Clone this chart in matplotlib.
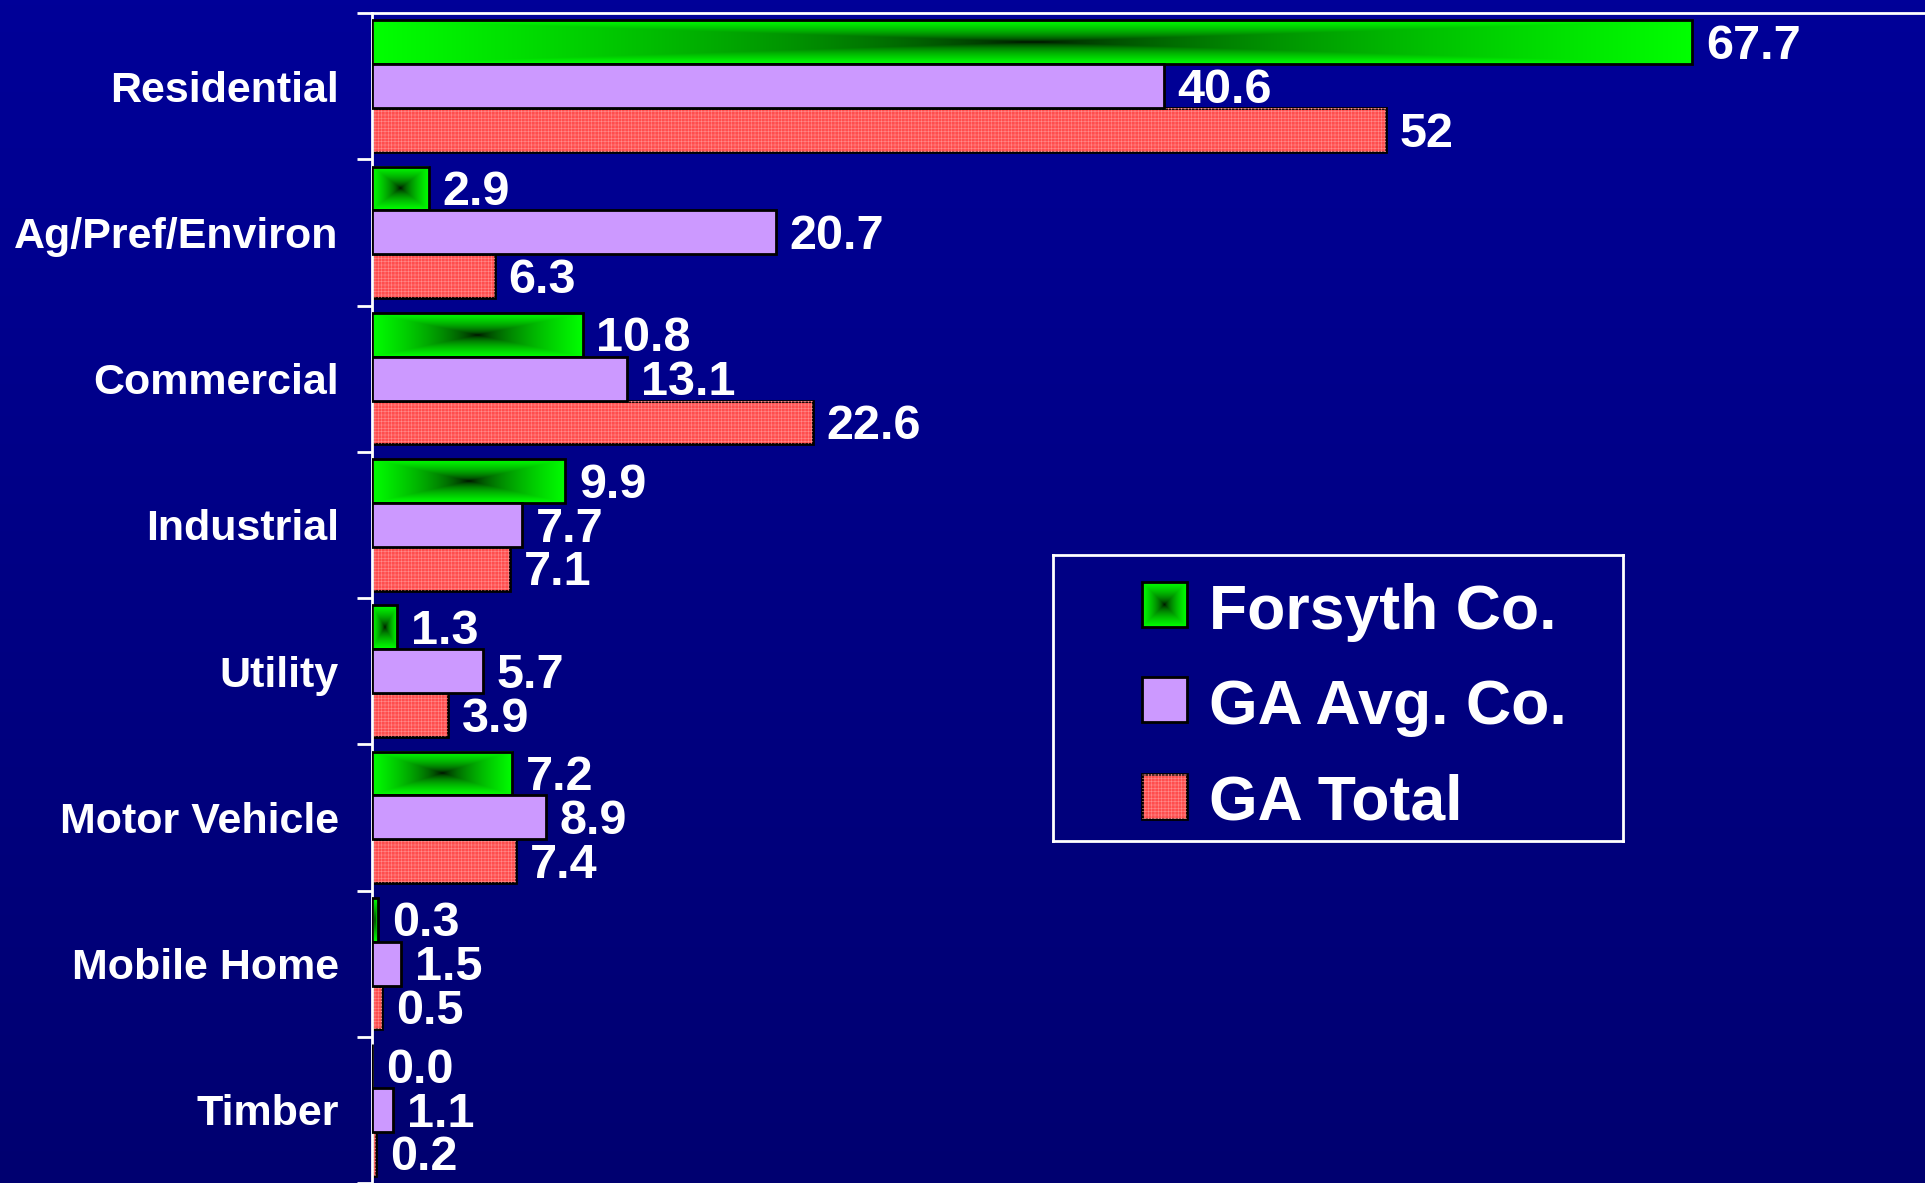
import numpy as np
import matplotlib
matplotlib.use('Agg')
import matplotlib.pyplot as plt
from matplotlib.patches import Rectangle


# Data:

categories = [ 'Residential', 'Ag/Pref/Environ', 'Commercial', 'Industrial',
               'Utility', 'Motor Vehicle', 'Mobile Home', 'Timber' ]
forsyth = [ 67.7, 2.9, 10.8, 9.9, 1.3, 7.2, 0.3, 0.0 ]
ga_avg = [ 40.6, 20.7, 13.1, 7.7, 5.7, 8.9, 1.5, 1.1 ]
ga_total = [ 52, 6.3, 22.6, 7.1, 3.9, 7.4, 0.5, 0.2 ]
series_names = [ 'Forsyth Co.', 'GA Avg. Co.', 'GA Total' ]


# Style:

plt.rcParams['font.family'] = ['Liberation Sans', 'DejaVu Sans']
plt.rcParams['font.weight'] = 'bold'
plt.rcParams['hatch.linewidth'] = 0.4

W, H = 1925, 1183
fig = plt.figure(figsize=(W / 100, H / 100), dpi=100)

#### Background gradient (top to bottom):
bg = fig.add_axes([0, 0, 1, 1], zorder=-10)
g = np.linspace(0, 1, 256).reshape(-1, 1, 1)
top_c = np.array([0, 0, 152]) / 255
bot_c = np.array([0, 0, 112]) / 255
bg.imshow(top_c * (1 - g) + bot_c * g, aspect='auto', extent=[0, 1, 0, 1])
bg.axis('off')


def center_gradient(nx=300, ny=60):
    # dark in the middle, bright green toward the edges
    xs = np.linspace(-1, 1, nx)
    ys = np.linspace(-1, 1, ny)
    X, Y = np.meshgrid(xs, ys)
    t = np.maximum(np.abs(X), np.abs(Y))
    img = np.zeros((ny, nx, 3))
    img[..., 1] = np.clip(t, 0, 1) ** 0.55
    return img


# Main axes:

ax = fig.add_axes([372 / W, 0, 1 - 372 / W, 1 - 13 / H])
ax.set_facecolor('none')

n = len(categories)
y = np.arange(n)
h = 0.3
red = '#ff4d4d'

bars_g = ax.barh(y - h, forsyth, height=h, color='none',
                 edgecolor='black', linewidth=2, zorder=3)
bars_p = ax.barh(y, ga_avg, height=h, color='#cc99ff',
                 edgecolor='black', linewidth=2, zorder=3)
bars_r = ax.barh(y + h, ga_total, height=h, color=red,
                 edgecolor='black', linewidth=2, zorder=2)
# >>> fine dotted texture on the red bars
ax.barh(y + h, ga_total, height=h, color='none', edgecolor='#ff8c8c',
        hatch='+++++', linewidth=0, zorder=2.5)

# >>> gradient fill for green bars
grad = center_gradient()
for b in bars_g:
    w = b.get_width()
    if w <= 0:
        continue
    y0 = b.get_y()
    ax.imshow(grad, aspect='auto', interpolation='bilinear', zorder=2,
              extent=[0, w, y0 + b.get_height(), y0])


def fmt(v):
    if float(v).is_integer() and v != 0:
        return str(int(v))
    return '{:.1f}'.format(v)


for bars, vals in zip([bars_g, bars_p, bars_r], [forsyth, ga_avg, ga_total]):
    for b, v in zip(bars, vals):
        ax.annotate(fmt(v), xy=(v, b.get_y() + b.get_height() / 2),
                    xytext=(10, -3), textcoords='offset points',
                    ha='left', va='center', color='white',
                    fontsize=35, fontweight='bold', zorder=5)

ax.set_xlim(0, (W - 372) / 19.5)
ax.set_ylim(-0.5 + (H - 13) / 147, -0.5)

#### Axis styling:
for side in ['right', 'bottom']:
    ax.spines[side].set_visible(False)
for side in ['left', 'top']:
    ax.spines[side].set_color('white')
    ax.spines[side].set_linewidth(2)
ax.set_xticks([])
ax.set_yticks(np.arange(-0.5, n, 1))
ax.set_yticklabels([])
ax.set_yticks(y, minor=True)
ax.set_yticklabels(categories, minor=True)
ax.tick_params(axis='y', which='major', direction='out', length=11,
               width=2, color='white')
ax.tick_params(axis='y', which='minor', length=0, pad=24,
               labelsize=31, labelcolor='white')


# Legend box (drawn by hand to get the gradient key):

lx0, ly0, lw, lh = 1053, 555, 570, 286
lax = fig.add_axes([lx0 / W, 1 - (ly0 + lh) / H, lw / W, lh / H])
lax.set_facecolor('none')
lax.set_xticks([])
lax.set_yticks([])
for s in lax.spines.values():
    s.set_color('white')
    s.set_linewidth(2)

key_centers = [50, 145, 241]
sq = 45
x0 = 89
for i, (name, cy) in enumerate(zip(series_names, key_centers)):
    if i == 0:
        lax.imshow(center_gradient(60, 60), aspect='auto',
                   interpolation='bilinear',
                   extent=[x0, x0 + sq, cy + sq / 2, cy - sq / 2])
        lax.add_patch(Rectangle((x0, cy - sq / 2), sq, sq, facecolor='none',
                                edgecolor='black', linewidth=2))
    elif i == 1:
        lax.add_patch(Rectangle((x0, cy - sq / 2), sq, sq, facecolor='#cc99ff',
                                edgecolor='black', linewidth=2))
    else:
        lax.add_patch(Rectangle((x0, cy - sq / 2), sq, sq, facecolor=red,
                                edgecolor='black', linewidth=2))
        lax.add_patch(Rectangle((x0, cy - sq / 2), sq, sq, facecolor='none',
                                edgecolor='#ff8c8c', hatch='+++++',
                                linewidth=0))
    lax.text(156, cy + 24, name, ha='left', va='baseline', color='white',
             fontsize=45, fontweight='bold')
lax.set_xlim(0, lw)
lax.set_ylim(lh, 0)

fig.savefig('out.png', dpi=100)
